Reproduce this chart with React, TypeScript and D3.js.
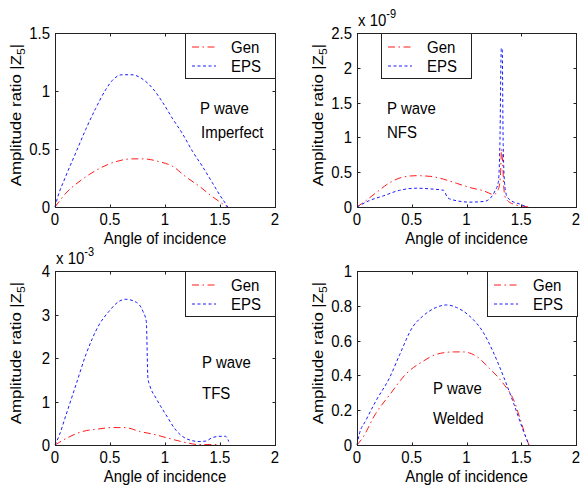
import React from "react";
import * as d3 from "d3";

// Angle of incidence (rad) and amplitude ratio |Z5| for each interface model
const imperfectEpsAngle = [0, 0.02, 0.1, 0.19, 0.28, 0.37, 0.46, 0.52, 0.61, 0.7, 0.8, 0.89, 0.98, 1.07, 1.16, 1.25, 1.34, 1.43, 1.5, 1.55, 1.57];
const imperfectEps = [0, 0.07, 0.27, 0.47, 0.67, 0.85, 1.01, 1.09, 1.14, 1.14, 1.1, 1.02, 0.9, 0.76, 0.63, 0.48, 0.35, 0.21, 0.1, 0.03, 0];
const imperfectGenAngle = [0, 0.1, 0.25, 0.4, 0.55, 0.7, 0.8, 0.95, 1.07, 1.19, 1.31, 1.43, 1.52, 1.57];
const imperfectGen = [0, 0.12, 0.24, 0.33, 0.39, 0.415, 0.415, 0.39, 0.35, 0.26, 0.18, 0.09, 0.03, 0];

const nfsGenAngle = [0, 0.08, 0.17, 0.3, 0.42, 0.54, 0.67, 0.79, 0.91, 1.03, 1.16, 1.25, 1.29, 1.31, 1.32, 1.33, 1.34, 1.35, 1.37, 1.43, 1.52, 1.57];
const nfsGen = [0, 0.09, 0.2, 0.35, 0.43, 0.45, 0.44, 0.4, 0.34, 0.28, 0.23, 0.18, 0.25, 0.45, 0.83, 0.64, 0.3, 0.16, 0.1, 0.04, 0.01, 0];
const nfsEpsAngle = [0, 0.11, 0.24, 0.39, 0.54, 0.67, 0.79, 0.83, 0.91, 1.03, 1.16, 1.22, 1.26, 1.29, 1.305, 1.318, 1.326, 1.335, 1.35, 1.37, 1.4, 1.49, 1.55];
const nfsEps = [0, 0.09, 0.16, 0.24, 0.27, 0.26, 0.24, 0.13, 0.09, 0.07, 0.08, 0.13, 0.23, 0.35, 0.9, 2.28, 2.28, 0.9, 0.3, 0.15, 0.1, 0.04, 0];

const tfsEpsAngle = [0, 0.04, 0.1, 0.19, 0.28, 0.4, 0.49, 0.58, 0.64, 0.74, 0.8, 0.83, 0.845, 0.86, 0.92, 1.01, 1.1, 1.19, 1.31, 1.37, 1.43, 1.5, 1.55, 1.58];
const tfsEps = [0, 0.23, 0.69, 1.38, 2.07, 2.76, 3.07, 3.3, 3.35, 3.28, 3.07, 2.84, 1.53, 1.38, 1.07, 0.69, 0.34, 0.15, 0.08, 0.09, 0.17, 0.2, 0.2, 0.08];
const tfsGenAngle = [0, 0.1, 0.25, 0.4, 0.52, 0.64, 0.77, 0.89, 1.01, 1.13, 1.22, 1.3, 1.35, 1.45, 1.5];
const tfsGen = [0, 0.15, 0.31, 0.37, 0.4, 0.4, 0.31, 0.25, 0.17, 0.09, 0.04, 0.01, 0.01, 0.01, 0.02];

const weldedEpsAngle = [0, 0.02, 0.08, 0.17, 0.3, 0.39, 0.51, 0.6, 0.72, 0.82, 0.91, 1.03, 1.15, 1.24, 1.34, 1.43, 1.52, 1.57];
const weldedEps = [0, 0.06, 0.14, 0.25, 0.39, 0.52, 0.68, 0.74, 0.79, 0.805, 0.79, 0.74, 0.65, 0.54, 0.39, 0.24, 0.08, 0];
const weldedGenAngle = [0, 0.05, 0.17, 0.3, 0.45, 0.6, 0.72, 0.88, 0.97, 1.09, 1.21, 1.34, 1.43, 1.49, 1.53, 1.57];
const weldedGen = [0, 0.04, 0.18, 0.29, 0.41, 0.48, 0.52, 0.535, 0.535, 0.51, 0.44, 0.35, 0.26, 0.15, 0.07, 0];

const xTicks = [0, 0.5, 1, 1.5, 2];
const imperfectTicks = [0, 0.5, 1, 1.5];
const nfsTicks = [0, 0.5, 1, 1.5, 2, 2.5];
const tfsTicks = [0, 1, 2, 3, 4];
const weldedTicks = [0, 0.2, 0.4, 0.6, 0.8, 1];

const seriesNames = ["Gen", "EPS"];

const FONT = "'Liberation Sans', Arial, Helvetica, sans-serif";
const FS = 15;
const SY = 1.12;
const GEN_COLOR = "#ff1a1a";
const EPS_COLOR = "#1a1aff";
const GEN_DASH = "7,3.5,1.5,3.5";
const EPS_DASH = "3,2.5";
const AXIS_COLOR = "#222";

type TProps = { x: number; y: number; anchor?: string; rotate?: boolean; children: React.ReactNode; size?: number };

// Text stretched slightly in the vertical direction
function T({ x, y, anchor = "start", rotate = false, children, size = FS }: TProps) {
  const tf = `translate(${x},${y}) scale(1,${SY})${rotate ? " rotate(-90)" : ""}`;
  return (
    <text transform={tf} textAnchor={anchor} fontFamily={FONT} fontSize={size} fill="#000">
      {children}
    </text>
  );
}

type PanelProps = {
  left: number;
  top: number;
  width: number;
  height: number;
  yMax: number;
  yTicks: number[];
  exponent?: string;
  gen: [number[], number[]];
  eps: [number[], number[]];
  legendLeft: number;
  note: [number, number, number, number];
  noteText: string;
};

function Panel({ left, top, width, height, yMax, yTicks, exponent, gen, eps, legendLeft, note, noteText }: PanelProps) {
  const x = d3.scaleLinear().domain([0, 2]).range([left, left + width]);
  const y = d3.scaleLinear().domain([0, yMax]).range([top + height, top]);
  const line = d3
    .line<[number, number]>()
    .x((d) => x(d[0]))
    .y((d) => y(d[1]))
    .curve(d3.curveMonotoneX);
  const genPts = gen[0].map((a, i) => [a, gen[1][i]] as [number, number]);
  const epsPts = eps[0].map((a, i) => [a, eps[1][i]] as [number, number]);
  const bottom = top + height;
  const right = left + width;
  const tl = 3;
  const fmt = (v: number) => String(+v.toFixed(2));
  const legTop = top;
  const rowGen = legTop + 14;
  const rowEps = legTop + 33;
  return (
    <g>
      <rect x={left} y={top} width={width} height={height} fill="#fff" />
      <path d={line(genPts) || ""} fill="none" stroke={GEN_COLOR} strokeWidth={1} strokeDasharray={GEN_DASH} />
      <path d={line(epsPts) || ""} fill="none" stroke={EPS_COLOR} strokeWidth={1} strokeDasharray={EPS_DASH} />
      <rect x={left + 0.5} y={top + 0.5} width={width} height={height} fill="none" stroke={AXIS_COLOR} strokeWidth={1} />
      {xTicks.map((t) => (
        <g key={"x" + t}>
          <line x1={Math.round(x(t)) + 0.5} x2={Math.round(x(t)) + 0.5} y1={bottom + 0.5} y2={bottom + 0.5 - tl} stroke={AXIS_COLOR} />
          <line x1={Math.round(x(t)) + 0.5} x2={Math.round(x(t)) + 0.5} y1={top + 0.5} y2={top + 0.5 + tl} stroke={AXIS_COLOR} />
          <T x={x(t)} y={bottom + 18} anchor="middle">{fmt(t)}</T>
        </g>
      ))}
      {yTicks.map((t) => (
        <g key={"y" + t}>
          <line x1={left + 0.5} x2={left + 0.5 + tl} y1={Math.round(y(t)) + 0.5} y2={Math.round(y(t)) + 0.5} stroke={AXIS_COLOR} />
          <line x1={right + 0.5} x2={right + 0.5 - tl} y1={Math.round(y(t)) + 0.5} y2={Math.round(y(t)) + 0.5} stroke={AXIS_COLOR} />
          <T x={left - 5} y={y(t) + 6} anchor="end">{fmt(t)}</T>
        </g>
      ))}
      {exponent && (
        <T x={left + 1} y={top - 7}>
          x 10<tspan fontSize={11} dy={-7}>{exponent}</tspan>
        </T>
      )}
      <T x={left + width / 2} y={bottom + 37} anchor="middle">Angle of incidence</T>
      <T x={left - 34} y={top + height / 2 - 5} anchor="middle" rotate>
        Amplitude ratio |Z<tspan fontSize={11} dy={4}>5</tspan><tspan dy={-4}>|</tspan>
      </T>
      <rect x={legendLeft + 0.5} y={legTop + 0.5} width={90} height={45} fill="#fff" stroke={AXIS_COLOR} />
      <line x1={legendLeft + 7} x2={legendLeft + 31} y1={rowGen} y2={rowGen} stroke={GEN_COLOR} strokeDasharray={GEN_DASH} />
      <line x1={legendLeft + 7} x2={legendLeft + 31} y1={rowEps} y2={rowEps} stroke={EPS_COLOR} strokeDasharray={EPS_DASH} />
      <T x={legendLeft + 46} y={rowGen + 6}>{seriesNames[0]}</T>
      <T x={legendLeft + 46} y={rowEps + 6}>{seriesNames[1]}</T>
      <T x={note[0]} y={note[1] + 6}>P wave</T>
      <T x={note[2]} y={note[3] + 6}>{noteText}</T>
    </g>
  );
}

export default function App() {
  const W = 581;
  const H = 491;
  const lx = 55;
  const rx = 357;
  const ty = 33;
  const by = 271;
  return (
    <svg width={W} height={H} style={{ position: "absolute", left: 0, top: 0, background: "#fff" }}>
      <rect width={W} height={H} fill="#fff" />
      <Panel left={lx} top={ty} width={220} height={174} yMax={1.5} yTicks={imperfectTicks}
        gen={[imperfectGenAngle, imperfectGen]} eps={[imperfectEpsAngle, imperfectEps]}
        legendLeft={185} note={[200, 108, 201, 132]} noteText="Imperfect" />
      <Panel left={rx} top={ty} width={219} height={174} yMax={2.5} yTicks={nfsTicks} exponent="-9"
        gen={[nfsGenAngle, nfsGen]} eps={[nfsEpsAngle, nfsEps]}
        legendLeft={381} note={[387, 108, 387, 132]} noteText="NFS" />
      <Panel left={lx} top={by} width={220} height={174} yMax={4} yTicks={tfsTicks} exponent="-3"
        gen={[tfsGenAngle, tfsGen]} eps={[tfsEpsAngle, tfsEps]}
        legendLeft={185} note={[202, 362, 202, 393]} noteText="TFS" />
      <Panel left={rx} top={by} width={219} height={174} yMax={1} yTicks={weldedTicks}
        gen={[weldedGenAngle, weldedGen]} eps={[weldedEpsAngle, weldedEps]}
        legendLeft={487} note={[433, 388, 433, 418]} noteText="Welded" />
    </svg>
  );
}
